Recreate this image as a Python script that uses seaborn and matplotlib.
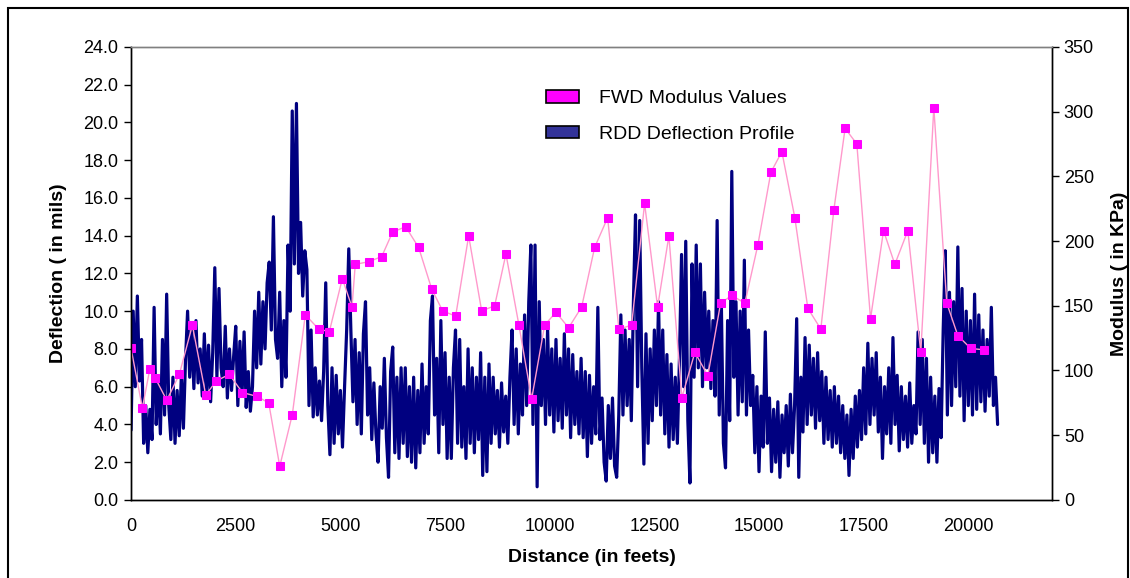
import numpy as np
import pandas as pd
import seaborn as sns
import matplotlib.pyplot as plt
from matplotlib.patches import Patch, Rectangle

# FWD stations (ft) and back-calculated modulus (KPa)
fwd_distance = [0, 270, 447, 580, 853, 1153, 1464, 1784, 2037, 2347, 2658, 3009,
                3288, 3551, 3852, 4162, 4482, 4736, 5046, 5277, 5356, 5676, 5987,
                6249, 6560, 6870, 7181, 7443, 7754, 8064, 8375, 8685, 8955, 9265,
                9569, 9879, 10149, 10452, 10763, 11073, 11384, 11653, 11957, 12267,
                12578, 12847, 13158, 13468, 13779, 14082, 14352, 14662, 14973,
                15283, 15546, 15856, 16167, 16477, 16788, 17057, 17337, 17664,
                17975, 18245, 18555, 18865, 19176, 19486, 19749, 20059, 20370]
fwd_modulus = [117, 71, 101, 94, 77, 97, 135, 81, 92, 97, 83, 80,
               75, 26, 66, 143, 132, 130, 171, 149, 182, 184, 188,
               207, 211, 195, 163, 146, 142, 204, 146, 150, 190, 135,
               78, 135, 145, 133, 149, 195, 218, 132, 135, 229,
               149, 204, 79, 114, 96, 152, 158, 152, 197,
               253, 269, 218, 148, 132, 224, 287, 275, 140,
               208, 182, 208, 114, 303, 152, 127, 117, 116]

# RDD deflection (mils), one reading every 50 ft from 0 ft
rdd_step = 50
rdd_deflection = [
    3.7, 10.0, 6.0, 10.8, 6.3, 8.5, 3.0, 5.0, 2.5, 4.8,
    3.2, 10.2, 4.0, 6.5, 3.5, 8.5, 4.5, 10.9, 5.0, 3.2,
    6.5, 3.0, 5.8, 3.4, 6.5, 3.8, 7.4, 10.0, 6.5, 9.0,
    5.9, 9.5, 6.2, 8.0, 5.5, 8.8, 5.6, 8.2, 5.2, 7.8,
    12.3, 6.5, 11.2, 7.0, 6.0, 9.2, 5.4, 8.0, 5.8, 7.6,
    9.2, 5.0, 8.4, 5.5, 8.9, 4.9, 6.8, 4.7, 6.0, 10.0,
    7.0, 11.0, 7.2, 10.5, 8.0, 11.5, 12.6, 9.0, 15.0, 8.5,
    7.5, 11.0, 6.0, 9.5, 6.5, 13.5, 10.0, 20.6, 12.5, 21.0,
    12.0, 14.7, 10.8, 13.2, 12.2, 5.0, 9.0, 4.4, 7.0, 4.5,
    6.3, 4.2, 6.8, 11.5, 5.0, 2.4, 7.0, 3.0, 6.6, 3.5,
    5.8, 2.8, 6.0, 9.0, 13.3, 9.0, 5.2, 8.5, 4.0, 7.8,
    3.5, 8.8, 10.5, 4.5, 7.0, 3.2, 6.2, 3.5, 2.0, 6.0,
    3.8, 7.5, 3.3, 1.2, 6.8, 8.1, 2.5, 6.5, 2.2, 7.0,
    3.0, 7.0, 2.3, 6.0, 2.0, 6.5, 1.7, 5.8, 2.5, 7.2,
    3.0, 6.0, 3.5, 9.5, 10.8, 4.5, 7.5, 2.5, 9.5, 4.0,
    7.8, 2.2, 6.5, 2.2, 7.0, 9.0, 3.0, 8.5, 2.8, 6.0,
    2.2, 8.0, 3.0, 7.0, 2.5, 6.5, 3.2, 7.8, 1.3, 6.5,
    1.5, 7.2, 3.0, 6.5, 3.5, 5.8, 2.8, 6.2, 3.6, 5.5,
    3.0, 6.5, 9.0, 4.0, 8.0, 3.5, 7.2, 4.5, 9.8, 5.0,
    10.5, 13.5, 4.0, 13.5, 0.7, 10.5, 5.0, 8.5, 4.0, 9.1,
    4.5, 8.0, 3.6, 8.5, 4.2, 7.5, 3.8, 8.8, 4.5, 8.0,
    3.3, 7.7, 4.0, 6.8, 3.5, 7.5, 3.3, 6.8, 2.3, 6.6,
    3.0, 6.0, 3.5, 10.2, 3.2, 5.4, 2.0, 1.0, 5.0, 2.2,
    5.4, 1.8, 1.2, 4.5, 9.8, 4.5, 9.0, 5.0, 8.5, 4.2,
    10.5, 15.1, 6.0, 14.8, 7.0, 1.9, 8.8, 3.0, 8.0, 4.2,
    9.0, 5.0, 10.5, 4.5, 9.0, 3.5, 7.7, 2.8, 7.2, 3.2,
    6.5, 3.0, 7.5, 13.0, 6.0, 13.7, 4.2, 0.9, 12.5, 6.5,
    13.5, 7.0, 12.5, 6.0, 11.0, 7.0, 10.0, 5.9, 9.5, 5.5,
    14.8, 4.5, 10.5, 3.0, 1.7, 9.5, 4.2, 17.4, 6.5, 10.5,
    4.5, 10.0, 5.2, 12.7, 4.5, 9.0, 5.0, 6.6, 2.5, 6.0,
    1.5, 5.5, 2.8, 8.9, 3.0, 5.4, 1.5, 4.8, 2.0, 5.2,
    1.2, 4.5, 2.5, 5.0, 1.8, 5.6, 2.5, 5.0, 9.6, 1.2,
    6.5, 3.6, 8.6, 4.0, 8.2, 4.5, 7.5, 3.8, 7.8, 4.2,
    6.8, 3.0, 6.5, 3.2, 5.8, 2.8, 6.0, 3.0, 5.5, 2.5,
    5.0, 2.2, 4.5, 1.3, 4.8, 2.2, 5.5, 2.8, 5.8, 3.2,
    7.0, 3.5, 8.3, 4.0, 7.5, 4.5, 7.8, 3.6, 6.5, 2.2,
    6.0, 3.5, 7.0, 3.0, 8.6, 4.0, 6.6, 2.6, 6.0, 3.2,
    5.5, 2.8, 6.2, 3.0, 5.0, 3.5, 8.9, 4.0, 8.5, 3.0,
    7.5, 2.0, 6.5, 2.5, 5.5, 2.0, 5.9, 3.3, 9.0, 13.2,
    4.5, 11.0, 5.0, 10.5, 6.0, 13.4, 5.5, 11.2, 4.2, 10.0,
    5.0, 9.5, 4.5, 10.9, 4.8, 9.8, 5.2, 9.0, 4.7, 8.5,
    5.5, 10.2, 5.0, 6.5, 4.0]

rdd = pd.DataFrame({'distance': np.arange(len(rdd_deflection)) * rdd_step,
                    'deflection': rdd_deflection})
fwd = pd.DataFrame({'distance': fwd_distance, 'modulus': fwd_modulus})

sns.set_style('white')
plt.rcParams['font.family'] = ['Liberation Sans', 'DejaVu Sans']
plt.rcParams['text.color'] = 'black'
plt.rcParams['axes.labelcolor'] = 'black'

fig, ax = plt.subplots(figsize=(11.3, 5.78), dpi=100)
fig.subplots_adjust(left=0.116, right=0.931, top=0.919, bottom=0.135)
ax2 = ax.twinx()

navy = '#000080'
sns.lineplot(data=rdd, x='distance', y='deflection', ax=ax, color=navy,
             linewidth=2.3, estimator=None, sort=False, legend=False)
sns.lineplot(data=fwd, x='distance', y='modulus', ax=ax2, color='#ff99cc',
             linewidth=1.0, marker='s', markersize=5.5, markerfacecolor='#ff00ff',
             markeredgecolor='#ff00ff', estimator=None, sort=False, legend=False)

ax.set_xlim(0, 22000)
ax.set_ylim(0, 24)
ax2.set_ylim(0, 350)
ax.set_xticks(np.arange(0, 20001, 2500))
ax.set_yticks(np.arange(0, 24.1, 2))
ax.set_yticklabels([f'{v:.1f}' for v in np.arange(0, 24.1, 2)])
ax2.set_yticks(np.arange(0, 351, 50))

for a in (ax, ax2):
    a.tick_params(direction='out', length=5, width=1, labelsize=13, colors='black')
    for s in a.spines.values():
        s.set_color('black')
        s.set_linewidth(1.0)
ax.spines['top'].set_color('#808080')
ax2.spines['top'].set_color('#808080')
ax.tick_params(axis='x', pad=8)
ax.tick_params(axis='y', pad=4)

ax.set_xlabel('Distance (in feets)', fontsize=14, fontweight='bold', labelpad=10)
ax.set_ylabel('Deflection ( in mils)', fontsize=14, fontweight='bold', labelpad=12)
ax2.set_ylabel('Modulus ( in KPa)', fontsize=14, fontweight='bold', labelpad=12)

handles = [Patch(facecolor='#ff00ff', edgecolor='black', linewidth=1.2),
           Patch(facecolor='#333399', edgecolor='black', linewidth=1.2)]
fig.legend(handles, ['FWD Modulus Values', 'RDD Deflection Profile'],
           loc='upper left', bbox_to_anchor=(0.468, 0.874), frameon=False,
           fontsize=14, handlelength=1.7, handleheight=0.6, handletextpad=1.0,
           labelspacing=0.95)

# outer chart border
fig.patches.append(Rectangle((0.007, -0.02), 0.991, 1.006,
                             transform=fig.transFigure, fill=False,
                             edgecolor='black', linewidth=1.5))

fig.savefig('out.png', dpi=100)
